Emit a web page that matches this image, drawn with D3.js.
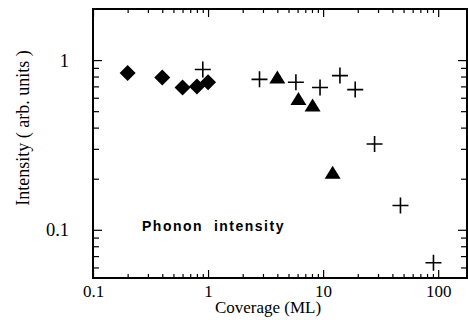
<!DOCTYPE html>
<html>
<head>
<meta charset="utf-8">
<script src="https://cdn.jsdelivr.net/npm/d3@7"></script>
<style>
  body { margin: 0; background: #fff; }
  svg { display: block; }
  .tick text { font-family: "Liberation Serif", "DejaVu Serif", serif; fill: #000; }
</style>
</head>
<body>
<div id="chart"></div>
<script>
// coverage (ML) and intensity for each marker type
var diamondX = [0.2, 0.4, 0.6, 0.8, 1.0];
var diamondY = [0.84, 0.79, 0.69, 0.70, 0.74];

var crossX = [0.9, 2.8, 5.8, 9.4, 14, 19, 28, 47, 91];
var crossY = [0.88, 0.77, 0.74, 0.69, 0.81, 0.67, 0.32, 0.139, 0.064];

var triX = [4.0, 6.1, 8.1, 12.1];
var triY = [0.79, 0.59, 0.54, 0.217];

var xMajor = [0.1, 1, 10, 100];
var xMajorLabels = ["0.1", "1", "10", "100"];
var yMajor = [0.1, 1];
var yMajorLabels = ["0.1", "1"];

var width = 468, height = 320;
var plotL = 93, plotR = 467, plotT = 9, plotB = 278;

var svg = d3.select("#chart").append("svg")
  .attr("width", width)
  .attr("height", height);

var x = d3.scaleLog().domain([0.1, 178]).range([plotL, plotR]);
var y = d3.scaleLog().domain([0.052, 2]).range([plotB, plotT]);

// minor ticks 2..9 in each decade
var xMinor = [];
[0.1, 1, 10, 100].forEach(function(d){
  for (var k = 2; k <= 9; k++) if (d * k <= 178) xMinor.push(d * k);
});
var yMinor = [];
[0.01, 0.1, 1].forEach(function(d){
  for (var k = 2; k <= 9; k++) if (d * k >= 0.052 && d * k < 2) yMinor.push(d * k);
});

function noDomain(g){ g.select(".domain").remove(); g.selectAll("line").attr("stroke", "#000").attr("stroke-width", 1.2); }

// bottom
svg.append("g").attr("transform", "translate(0," + plotB + ")")
  .call(d3.axisBottom(x).tickValues(xMinor).tickSize(-4).tickFormat(""))
  .call(noDomain);
svg.append("g").attr("transform", "translate(0," + plotB + ")")
  .call(d3.axisBottom(x).tickValues(xMajor).tickSize(-8).tickPadding(7)
        .tickFormat(function(d, i){ return xMajorLabels[i]; }))
  .call(noDomain)
  .selectAll("text").style("font-size", "17px");

// top
svg.append("g").attr("transform", "translate(0," + plotT + ")")
  .call(d3.axisTop(x).tickValues(xMinor).tickSize(-4).tickFormat(""))
  .call(noDomain);
svg.append("g").attr("transform", "translate(0," + plotT + ")")
  .call(d3.axisTop(x).tickValues(xMajor).tickSize(-8).tickFormat(""))
  .call(noDomain);

// left
svg.append("g").attr("transform", "translate(" + plotL + ",0)")
  .call(d3.axisLeft(y).tickValues(yMinor).tickSize(-6).tickFormat(""))
  .call(noDomain);
svg.append("g").attr("transform", "translate(" + plotL + ",0)")
  .call(d3.axisLeft(y).tickValues(yMajor).tickSize(-9).tickPadding(24)
        .tickFormat(function(d, i){ return yMajorLabels[i]; }))
  .call(noDomain)
  .selectAll("text").style("font-size", "18.5px");

// right
svg.append("g").attr("transform", "translate(" + plotR + ",0)")
  .call(d3.axisRight(y).tickValues(yMinor).tickSize(-6).tickFormat(""))
  .call(noDomain);
svg.append("g").attr("transform", "translate(" + plotR + ",0)")
  .call(d3.axisRight(y).tickValues(yMajor).tickSize(-9).tickFormat(""))
  .call(noDomain);

// frame
svg.append("rect")
  .attr("x", plotL).attr("y", plotT)
  .attr("width", plotR - plotL).attr("height", plotB - plotT)
  .attr("fill", "none").attr("stroke", "#000").attr("stroke-width", 2);

// diamonds
var diamonds = diamondX.map(function(d, i){ return {x: d, y: diamondY[i]}; });
svg.selectAll(".diamond").data(diamonds).enter().append("path")
  .attr("class", "diamond")
  .attr("d", "M0,-8L8,0L0,8L-8,0Z")
  .attr("transform", function(d){ return "translate(" + x(d.x) + "," + y(d.y) + ")"; })
  .attr("fill", "#000");

// triangles
var tris = triX.map(function(d, i){ return {x: d, y: triY[i]}; });
svg.selectAll(".tri").data(tris).enter().append("path")
  .attr("class", "tri")
  .attr("d", "M0,-7L8,6L-8,6Z")
  .attr("transform", function(d){ return "translate(" + x(d.x) + "," + y(d.y) + ")"; })
  .attr("fill", "#000");

// crosses
var crosses = crossX.map(function(d, i){ return {x: d, y: crossY[i]}; });
svg.selectAll(".cross").data(crosses).enter().append("path")
  .attr("class", "cross")
  .attr("d", "M-8,0H8M0,-8V8")
  .attr("transform", function(d){ return "translate(" + x(d.x) + "," + y(d.y) + ")"; })
  .attr("stroke", "#000").attr("stroke-width", 1.6).attr("fill", "none");

// labels
svg.append("text")
  .attr("x", 142).attr("y", 231)
  .style("font-family", "'Liberation Sans', Arial, sans-serif")
  .style("font-weight", "bold")
  .style("font-size", "14px")
  .style("letter-spacing", "1.5px")
  .attr("xml:space", "preserve")
  .text("Phonon  intensity");

svg.append("text")
  .attr("x", 268).attr("y", 313)
  .attr("text-anchor", "middle")
  .style("font-family", "'Liberation Serif', serif")
  .style("font-size", "17px")
  .text("Coverage (ML)");

svg.append("text")
  .attr("transform", "translate(29," + 128 + ") rotate(-90)")
  .attr("text-anchor", "middle")
  .style("font-family", "'Liberation Serif', serif")
  .style("font-size", "18px")
  .text("Intensity ( arb. units )");
</script>
</body>
</html>
